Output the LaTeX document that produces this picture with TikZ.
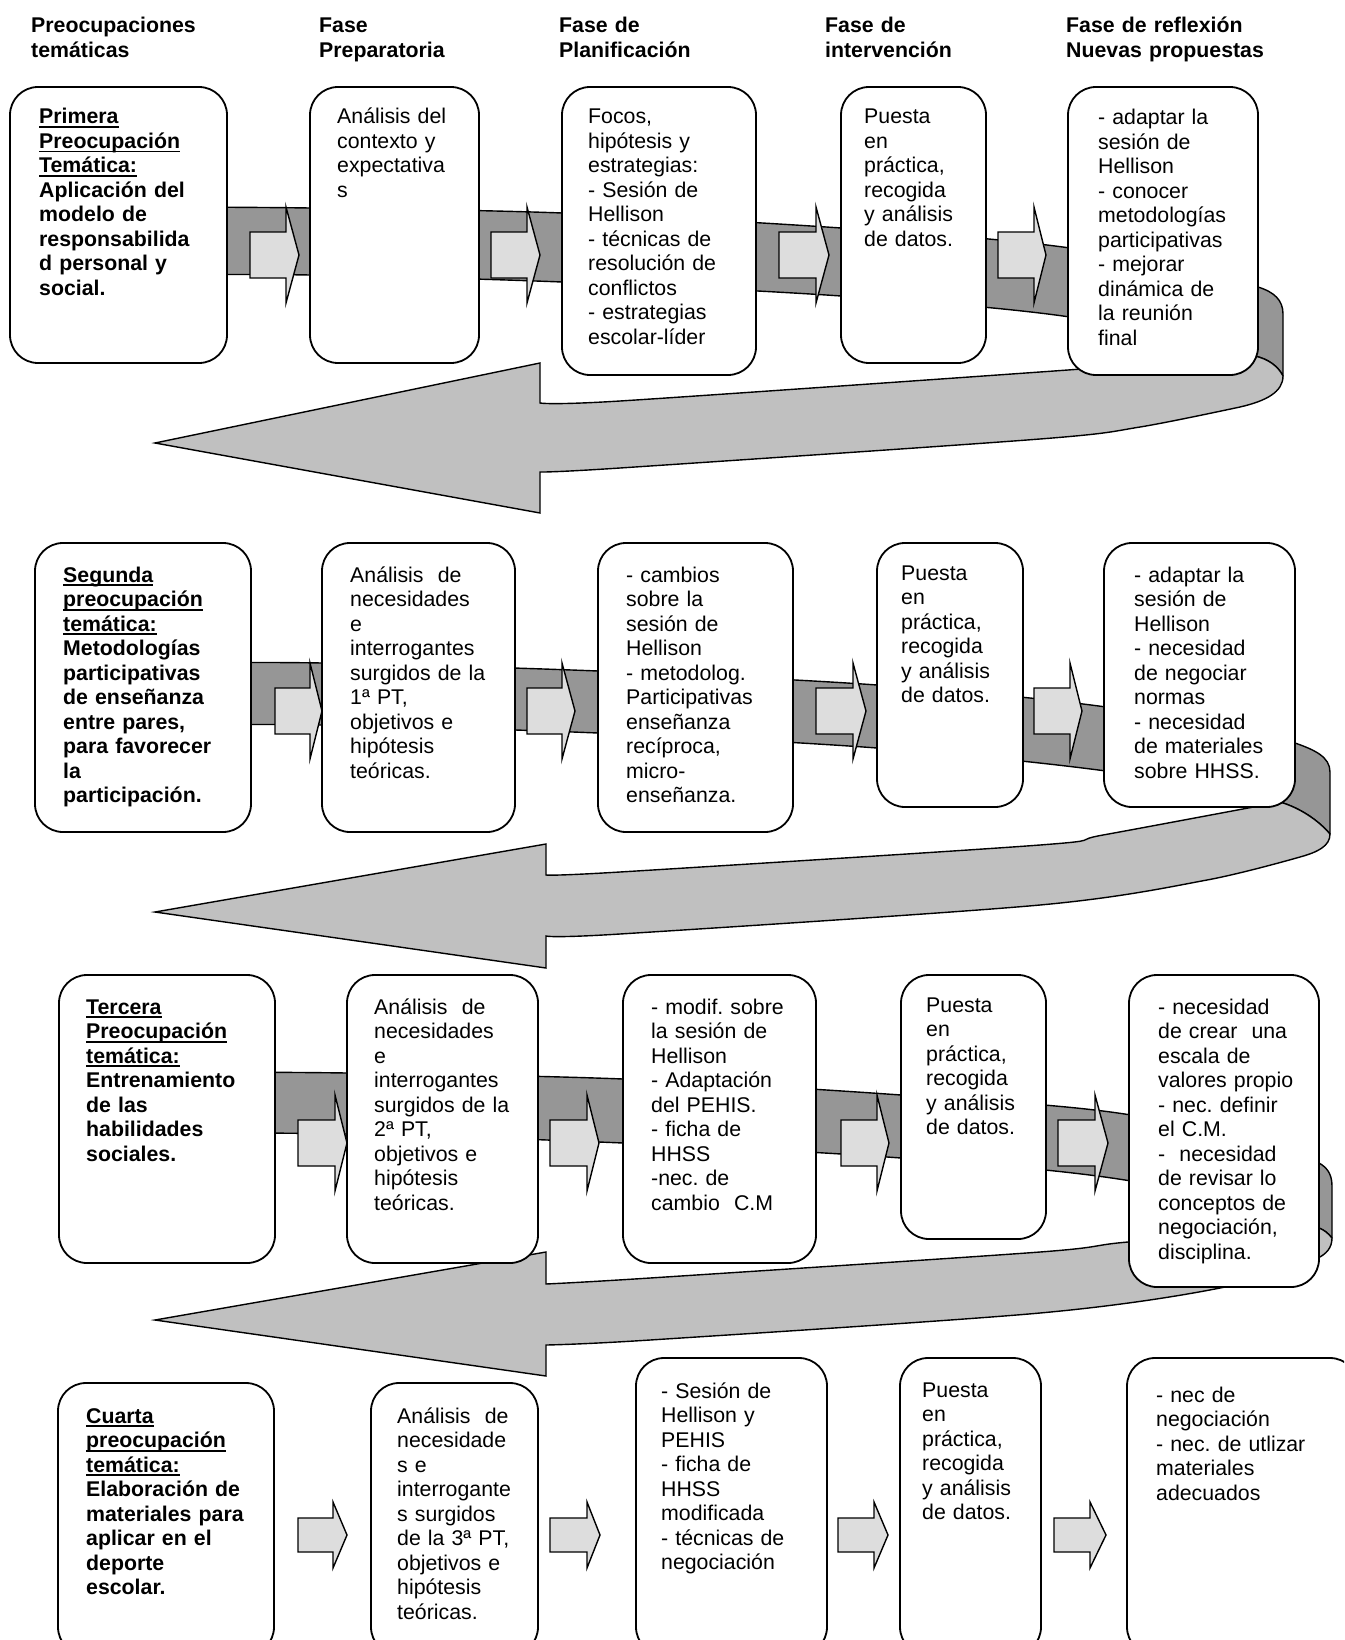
\documentclass[tikz,border=0pt]{standalone}
\usepackage{fontspec}
\setmainfont{Liberation Sans}
\frenchspacing
\newsavebox{\ulbox}
\newcommand{\myul}[1]{\leavevmode\sbox{\ulbox}{#1}\makebox[0pt][l]{\rule[-4pt]{\wd\ulbox}{1.6pt}}\usebox{\ulbox}}
\definecolor{banddark}{HTML}{969696}
\definecolor{bandlight}{HTML}{C0C0C0}
\definecolor{arrowfill}{HTML}{DDDDDD}
\newcommand{\barrow}[6]{\filldraw[smallarrow] (#1,#4-#5) -- (#2,#4-#5) -- (#2,#4-#6) -- (#3,#4) -- (#2,#4+#6) -- (#2,#4+#5) -- (#1,#4+#5) -- cycle;}
\newcommand{\bx}[5]{\node[box, minimum width=#4pt-#2pt, minimum height=#5pt-#3pt] (#1) at ({(#2+#4)/2},{(#3+#5)/2}) {};}
\tikzset{
  box/.style={draw=black, line width=1.8pt, fill=white, rounded corners=28pt, inner sep=0pt, outer sep=0pt},
  band/.style={draw=black, line width=1.4pt, fill=banddark, line join=round},
  lightband/.style={draw=black, line width=1.4pt, fill=bandlight, line join=miter},
  smallarrow/.style={draw=black, line width=1.4pt, fill=arrowfill, line join=miter},
  txt/.style={anchor=base west, text width=330pt, align=left, inner sep=0pt, font=\fontsize{21.3}{24.5}\selectfont},
  btxt/.style={txt, font=\fontsize{21.3}{24.5}\selectfont\bfseries},
}
\begin{document}
\begin{tikzpicture}[x=1pt, y=-1pt]
\useasboundingbox (0,0) rectangle (1344,1640);
\clip (0,0) rectangle (1344,1640);
\fill[white] (0,0) rectangle (1344,1640);

% headers
\node[btxt] (h1) at (31,33) {Preocupaciones\\temáticas};
\node[btxt] (h2) at (319,33) {Fase\\Preparatoria};
\node[btxt] (h3) at (559,33) {Fase de\\Planificación};
\node[btxt] (h4) at (825,33) {Fase de\\intervención};
\node[btxt] (h5) at (1066,33) {Fase de reflexión\\Nuevas propuestas};

% ===== row 1 ribbon
\filldraw[band] plot[smooth, tension=0.55] coordinates {(150,207) (310,208) (562,213) (841,228) (1070,248) (1258,287)}
  .. controls (1274,292) and (1283,300) .. (1283,314) -- (1283,376)
  .. controls (1278,366) and (1268,359) .. (1255,356)
  -- plot[smooth, tension=0.55] coordinates {(1255,356) (1070,317) (841,296) (562,282) (310,275) (150,275)} -- cycle;
\filldraw[lightband] (155,443) -- (540,363) -- (540,403)
  -- plot[smooth, tension=0.5] coordinates {(540,403) (620,401) (1040,372) (1255,356)}
  .. controls (1268,359) and (1278,366) .. (1283,376)
  .. controls (1283,392) and (1266,401) .. (1240,407)
  -- plot[smooth, tension=0.5] coordinates {(1240,407) (1140,427) (1040,439) (620,468) (540,472)}
  -- (540,513) -- cycle;

% ===== row 2 ribbon
\filldraw[band] plot[smooth, tension=0.55] coordinates {(150,663) (322,663) (598,671) (877,685) (1106,707) (1295,743)}
  .. controls (1315,750) and (1330,757) .. (1330,772) -- (1330,834)
  .. controls (1318,820) and (1300,808) .. (1280,802)
  -- plot[smooth, tension=0.55] coordinates {(1280,802) (1106,771) (877,748) (598,733) (322,725) (150,725)} -- cycle;
\filldraw[lightband] (155,912) -- (546,844) -- (546,875)
  -- plot[smooth, tension=0.5] coordinates {(546,875) (620,872) (1040,845) (1103,835) (1280,802)}
  .. controls (1300,808) and (1318,820) .. (1330,834)
  .. controls (1330,846) and (1318,852) .. (1300,857)
  -- plot[smooth, tension=0.5] coordinates {(1300,857) (1207,880) (1040,905) (620,934) (546,936)}
  -- (546,968) -- cycle;

% ===== row 3 ribbon
\filldraw[band] plot[smooth, tension=0.55] coordinates {(150,1072) (347,1073) (623,1079) (901,1095) (1131,1115) (1319,1163)}
  .. controls (1326,1167) and (1332,1173) .. (1332,1186) -- (1332,1238)
  .. controls (1328,1233) and (1324,1230) .. (1319,1228)
  -- plot[smooth, tension=0.55] coordinates {(1319,1228) (1131,1181) (901,1158) (623,1143) (347,1134) (150,1133)} -- cycle;
\filldraw[lightband] (155,1320) -- (546,1252) -- (546,1284)
  -- plot[smooth, tension=0.5] coordinates {(546,1284) (650,1278) (1040,1252) (1128,1242) (1319,1228)}
  .. controls (1324,1230) and (1328,1233) .. (1332,1238)
  .. controls (1332,1248) and (1326,1254) .. (1318,1258)
  -- plot[smooth, tension=0.5] coordinates {(1318,1258) (1220,1288) (1040,1313) (650,1340) (546,1345)}
  -- (546,1376) -- cycle;

% ===== small arrows
\barrow{250}{286}{299}{255}{23}{48}
\barrow{491}{527}{540}{255}{23}{48}
\barrow{779}{816}{829}{255}{23}{48}
\barrow{998}{1034}{1046}{255}{23}{48}
\barrow{275}{310}{322}{711}{23}{48}
\barrow{527}{562}{575}{711}{23}{48}
\barrow{816}{853}{866}{711}{23}{48}
\barrow{1034}{1070}{1082}{711}{23}{48}
\barrow{298}{335}{347}{1143}{23}{48}
\barrow{550}{587}{599}{1143}{23}{48}
\barrow{841}{877}{889}{1143}{23}{48}
\barrow{1058}{1095}{1108}{1143}{23}{48}
\barrow{298}{333}{347}{1535}{17}{33}
\barrow{550}{587}{600}{1535}{17}{33}
\barrow{838}{874}{888}{1535}{17}{33}
\barrow{1054}{1090}{1106}{1535}{17}{33}

% ===== boxes
\bx{A1}{10}{87}{227}{363}
\bx{B1}{310}{87}{479}{363}
\bx{C1}{562}{87}{756}{375}
\bx{D1}{841}{87}{986}{363}
\bx{E1}{1068}{87}{1258}{375}
\bx{A2}{35}{543}{251}{832}
\bx{B2}{322}{543}{515}{832}
\bx{C2}{598}{543}{793}{832}
\bx{D2}{877}{543}{1023}{807}
\bx{E2}{1104}{543}{1295}{807}
\bx{A3}{59}{975}{275}{1263}
\bx{B3}{347}{975}{538}{1263}
\bx{C3}{623}{975}{816}{1263}
\bx{D3}{901}{975}{1046}{1239}
\bx{E3}{1129}{975}{1319}{1287}
\bx{A4}{58}{1383}{274}{1655}
\bx{B4}{371}{1383}{538}{1655}
\bx{C4}{636}{1358}{827}{1655}
\bx{D4}{900}{1358}{1041}{1655}
\bx{E4}{1127}{1358}{1358}{1655}

% ===== texts row 1
\node[btxt] (A1t) at (39,124) {\myul{Primera}\\\myul{Preocupación}\\\myul{Temática:}\\Aplicación del\\modelo de\\responsabilida\\d personal y\\social.};
\node[txt] (B1t) at (337,124) {Análisis del\\contexto y\\expectativa\\s};
\node[txt] (C1t) at (588,124) {Focos,\\hipótesis y\\estrategias:\\- Sesión de\\Hellison\\- técnicas de\\resolución de\\conflictos\\- estrategias\\escolar-líder};
\node[txt] (D1t) at (864,124) {Puesta\\en\\práctica,\\recogida\\y análisis\\de datos.};
\node[txt] (E1t) at (1098,125) {- adaptar la\\sesión de\\Hellison\\- conocer\\metodologías\\participativas\\- mejorar\\dinámica de\\la reunión\\final};

% ===== texts row 2
\node[btxt] (A2t) at (63,582) {\myul{Segunda}\\\myul{preocupación}\\\myul{temática:}\\Metodologías\\participativas\\de enseñanza\\entre pares,\\para favorecer\\la\\participación.};
\node[txt] (B2t) at (350,582) {Análisis\ \ de\\necesidades\\e\\interrogantes\\surgidos de la\\1ª PT,\\objetivos e\\hipótesis\\teóricas.};
\node[txt] (C2t) at (626,582) {- cambios\\sobre la\\sesión de\\Hellison\\- metodolog.\\Participativas\\enseñanza\\recíproca,\\micro-\\enseñanza.};
\node[txt] (D2t) at (901,580) {Puesta\\en\\práctica,\\recogida\\y análisis\\de datos.};
\node[txt] (E2t) at (1134,582) {- adaptar la\\sesión de\\Hellison\\- necesidad\\de negociar\\normas\\- necesidad\\de materiales\\sobre HHSS.};

% ===== texts row 3
\node[btxt] (A3t) at (86,1014) {\myul{Tercera}\\\myul{Preocupación}\\\myul{temática:}\\Entrenamiento\\de las\\habilidades\\sociales.};
\node[txt] (B3t) at (374,1014) {Análisis\ \ de\\necesidades\\e\\interrogantes\\surgidos de la\\2ª PT,\\objetivos e\\hipótesis\\teóricas.};
\node[txt] (C3t) at (651,1014) {- modif. sobre\\la sesión de\\Hellison\\- Adaptación\\del PEHIS.\\- ficha de\\HHSS\\-nec. de\\cambio\ \ C.M};
\node[txt] (D3t) at (926,1012) {Puesta\\en\\práctica,\\recogida\\y análisis\\de datos.};
\node[txt] (E3t) at (1158,1014) {- necesidad\\de crear\hspace{14pt}una\\escala de\\valores propio\\- nec. definir\\el C.M.\\-\ \ necesidad\\de revisar lo\\conceptos de\\negociación,\\disciplina.};

% ===== texts row 4
\node[btxt] (A4t) at (86,1423) {\myul{Cuarta}\\\myul{preocupación}\\\myul{temática:}\\Elaboración de\\materiales para\\aplicar en el\\deporte\\escolar.};
\node[txt] (B4t) at (397,1423) {Análisis\ \ de\\necesidade\\s e\\interrogante\\s surgidos\\de la 3ª PT,\\objetivos e\\hipótesis\\teóricas.};
\node[txt] (C4t) at (661,1398) {- Sesión de\\Hellison y\\PEHIS\\- ficha de\\HHSS\\modificada\\- técnicas de\\negociación};
\node[txt] (D4t) at (922,1397) {Puesta\\en\\práctica,\\recogida\\y análisis\\de datos.};
\node[txt] (E4t) at (1156,1402) {- nec de\\negociación\\- nec. de utlizar\\materiales\\adecuados};
\end{tikzpicture}
\end{document}
